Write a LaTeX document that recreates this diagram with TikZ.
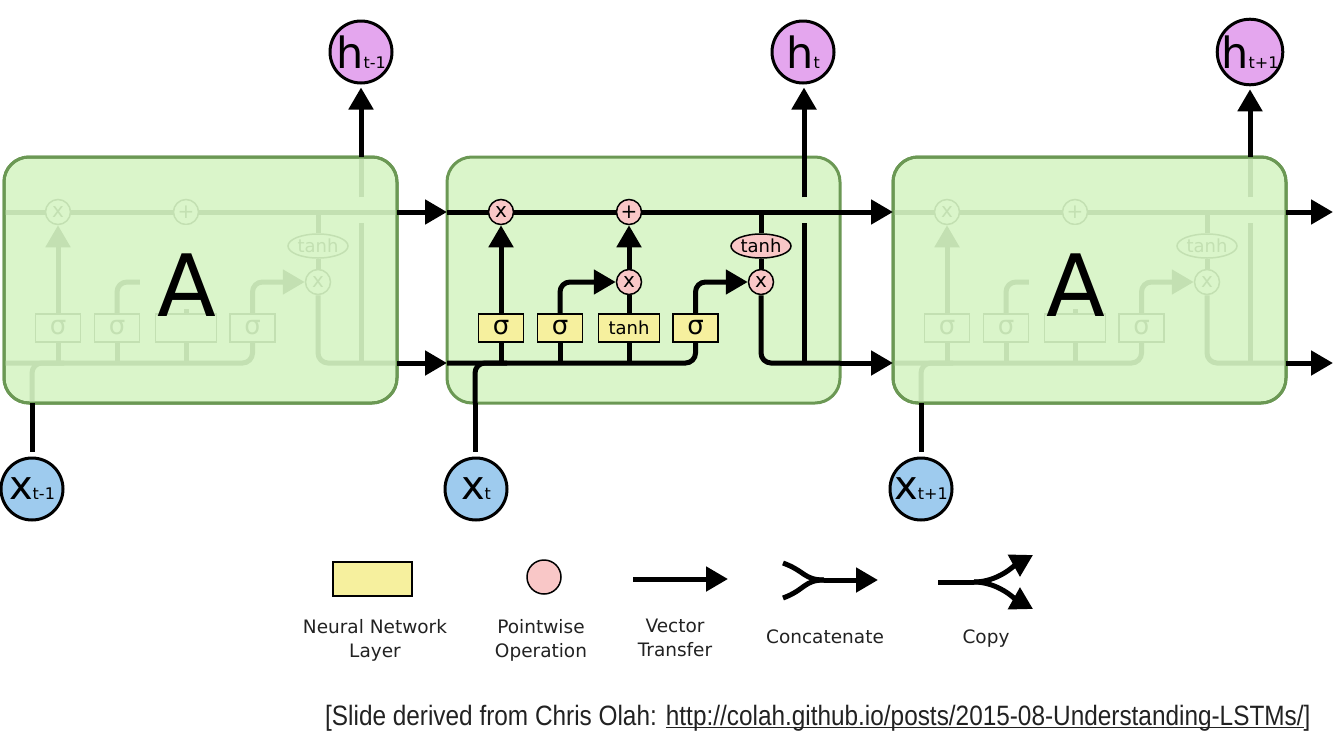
\documentclass[tikz,border=0pt]{standalone}
\usepackage{fontspec}
\setmainfont{DejaVu Sans}
\newfontfamily\citefont[FakeStretch=0.87]{Liberation Sans}
\usetikzlibrary{arrows.meta,shapes.geometric}

\definecolor{cellfill}{RGB}{218,245,202}
\definecolor{cellborder}{RGB}{107,152,84}
\definecolor{fade}{RGB}{195,224,178}
\definecolor{pwpink}{RGB}{249,199,199}
\definecolor{nnyellow}{RGB}{246,240,158}
\definecolor{hviolet}{RGB}{228,166,238}
\definecolor{xblue}{RGB}{158,203,238}
\definecolor{legtext}{RGB}{34,34,34}
\colorlet{lncol}{black}
\colorlet{pwfc}{pwpink}
\colorlet{nnfc}{nnyellow}
\colorlet{txtc}{black}

\newcommand\fsz[1]{\fontsize{#1}{#1}\selectfont}
\newcommand\subt[1]{{\fsz{16}#1}}
\newcommand\ulink[1]{\leavevmode\setbox0\hbox{#1}\rlap{\rule[-3pt]{\wd0}{1.3pt}}\box0}
\newcommand\tanhlbl{tanh}
\newcommand\inlbl{x}

\tikzset{
  ln/.style={line width=5pt, draw=lncol},
  arr/.style={-{Triangle[length=22pt,width=24pt]}},
  cellbox/.style={rectangle, rounded corners=25pt, fill=cellfill, draw=cellborder,
    line width=3pt, minimum width=393pt, minimum height=246pt, inner sep=0pt, outer sep=0pt},
  pw/.style={circle, draw=lncol, fill=pwfc, line width=1.5pt, minimum size=25pt,
    inner sep=0pt, text=txtc, font=\fsz{20}},
  pwell/.style={ellipse, draw=lncol, fill=pwfc, line width=1.5pt, minimum width=60pt,
    minimum height=24pt, inner sep=0pt, text=txtc, font=\fsz{18}},
  nn/.style={rectangle, draw=lncol, fill=nnfc, line width=1.5pt, minimum height=28pt,
    minimum width=45pt, inner sep=0pt, text=txtc, font=\fsz{26}},
  cover/.style={rectangle, fill=cellfill, draw=none, minimum width=96pt,
    minimum height=84pt, inner sep=0pt},
  bigA/.style={inner sep=0pt, font=\fsz{86}, text=black},
  hnode/.style={circle, draw=black, fill=hviolet, line width=3pt, minimum size=62pt,
    inner sep=0pt, font=\fsz{43}},
  xnode/.style={circle, draw=black, fill=xblue, line width=3pt, minimum size=62pt,
    inner sep=0pt, font=\fsz{40}},
  legtxt/.style={inner sep=0pt, align=center, text=legtext,
    font=\fontsize{18.5}{24}\selectfont},
  pics/lstm/.style={code={
    \node[cellbox, anchor=north west] (-cell) at (0,0) {};
    \coordinate (-cin) at (0,55);
    \coordinate (-cout) at (393,55);
    \coordinate (-hin) at (0,206);
    \coordinate (-hout) at (393,206);
    \coordinate (-xb) at (28,246);
    \coordinate (-xj) at (60,206);
    \coordinate (-htop) at (357,0);
    \coordinate (-hup) at (357,40);
    \coordinate (-hlo) at (357,66);
    \coordinate (-hbot) at (357,206);
    \coordinate (-ctap) at (314,55);
    \draw[ln] (-cin) -- (-cout);
    \node[pw] (-f) at (54,55) {x};
    \node[pw] (-p) at (182,55) {+};
    \node[pw] (-i) at (182,125) {\inlbl};
    \node[pw] (-o) at (314,125) {x};
    \node[pwell] (-th) at (314,89) {tanh};
    \node[nn] (-s1) at (54,171) {σ};
    \node[nn] (-s2) at (113,171) {σ};
    \node[nn, minimum width=61pt, font=\fsz{18}] (-t) at (182,171) {\tanhlbl};
    \node[nn] (-s3) at (248.5,171) {σ};
    \draw[ln, rounded corners=10pt] (-hin) -- (-s3.south |- -hin) -- (-s3.south);
    \draw[ln, rounded corners=10pt] (-xb) -- (-xb |- -hin) -- (-xj);
    \draw[ln] (-s1.south) -- (-s1.south |- -hin);
    \draw[ln] (-s2.south) -- (-s2.south |- -hin);
    \draw[ln] (-t.south) -- (-t.south |- -hin);
    \draw[ln, arr] (-s1) -- (-f);
    \draw[ln, arr, rounded corners=10pt] (-s2.north) -- (-s2.north |- -i) -- (-i.west);
    \draw[ln] (-t) -- (-i);
    \draw[ln, arr] (-i) -- (-p);
    \draw[ln, arr, rounded corners=10pt] (-s3.north) -- (-s3.north |- -o) -- (-o.west);
    \draw[ln] (-ctap) -- (-th.north);
    \draw[ln] (-th) -- (-o);
    \draw[ln, rounded corners=10pt] (-o.south) -- (-o.south |- -hin) -- (-hout);
    \draw[ln] (-hbot) -- (-hlo);
    \draw[ln] (-hup) -- (-htop);
  }}
}

\begin{document}
\begin{tikzpicture}[x=1pt,y=-1pt]
\useasboundingbox (0,0) rectangle (1333,750);
\fill[white] (0,0) rectangle (1333,750);

% faded cells
\begin{scope}
  \colorlet{lncol}{fade}\colorlet{pwfc}{cellfill}\colorlet{nnfc}{cellfill}
  \colorlet{txtc}{fade}
  \renewcommand\tanhlbl{}\renewcommand\inlbl{}
  \pic (L) at (4,157) {lstm};
  \pic (R) at (893,157) {lstm};
\end{scope}
% detailed cell
\pic (M) at (447,157) {lstm};

% covers, big letters, borders of faded cells
\node[cover] (L-cov) at ([shift={(184,110)}]L-cell.north west) {};
\node[bigA] (L-A) at ([shift={(183,128)}]L-cell.north west) {A};
\draw[cellborder, line width=3pt, rounded corners=25pt] (L-cell.north west) rectangle (L-cell.south east);
\node[cover] (R-cov) at ([shift={(184,110)}]R-cell.north west) {};
\node[bigA] (R-A) at ([shift={(183,128)}]R-cell.north west) {A};
\draw[cellborder, line width=3pt, rounded corners=25pt] (R-cell.north west) rectangle (R-cell.south east);

% outputs and inputs
\node[hnode] (h1) at (361,52) {h\subt{t-1}};
\node[hnode] (h2) at (803,52) {h\subt{t}};
\node[hnode] (h3) at (1250,52) {h\subt{t+1}};
\node[xnode] (x1) at (32,489) {x\subt{t-1}};
\node[xnode] (x2) at (476,489) {x\subt{t}};
\node[xnode] (x3) at (921,489) {x\subt{t+1}};

\draw[ln, arr, shorten >=3pt] (L-htop) -- (h1);
\draw[ln, arr, shorten >=3pt] (M-hup) -- (M-hup |- h2.south);
\draw[ln, arr, shorten >=3pt] (R-htop) -- (h3);
\draw[ln, shorten <=5pt] (x1) -- (L-xb);
\draw[ln, shorten <=5pt] (M-xb |- x2.north) -- (M-xb);
\draw[ln, shorten <=5pt] (x3) -- (R-xb);

% transfers between cells
\coordinate (cend) at (1333,212);
\coordinate (hend) at (1333,363);
\draw[ln, arr] (L-cout) -- (M-cin);
\draw[ln, arr] (L-hout) -- (M-hin);
\draw[ln, arr] (M-cout) -- (R-cin);
\draw[ln, arr] (M-hout) -- (R-hin);
\draw[ln, arr] (R-cout) -- (cend);
\draw[ln, arr] (R-hout) -- (hend);

% legend
\node[nn, minimum width=79pt, minimum height=34pt, line width=2.5pt] (legnn) at (372.5,579) {};
\node[legtxt, anchor=north] (legnnl) at (375,619) {Neural Network\\Layer};
\node[pw, minimum size=34pt] (legpw) at (544,577) {};
\node[legtxt, anchor=north] (legpwl) at (541,619) {Pointwise\\Operation};
\coordinate (va) at (633,579);
\coordinate (vb) at (728,579);
\draw[ln, arr] (va) -- (vb);
\node[legtxt, anchor=north] (legvl) at (675,619) {Vector\\Transfer};
\coordinate (ca) at (783,563);
\coordinate (cb) at (783,598);
\coordinate (cj) at (824,580);
\coordinate (ce) at (878,580);
\draw[ln] (ca) .. controls +(22,8) and +(-20,0) .. (cj);
\draw[ln] (cb) .. controls +(22,-8) and +(-20,0) .. (cj);
\draw[ln, arr] (cj) -- (ce);
\node[legtxt, anchor=north] (legcl) at (825,630) {Concatenate};
\coordinate (pa) at (938,582);
\coordinate (pj) at (974,582);
\coordinate (pu) at (1033,555);
\coordinate (pd) at (1033,609);
\draw[ln] (pa) -- (pj);
\draw[ln, arr] (pj) .. controls +(24,0) and +(-18,10) .. (pu);
\draw[ln, arr] (pj) .. controls +(24,0) and +(-18,-10) .. (pd);
\node[legtxt, anchor=north] (legpl) at (986,630) {Copy};

% source
\node[anchor=base west, inner sep=0pt, text=legtext, font=\citefont\fsz{28}] (cite) at (325,725)
  {[Slide derived from Chris Olah: \ulink{http://colah.github.io/posts/2015-08-Understanding-LSTMs/}]};
\end{tikzpicture}
\end{document}
